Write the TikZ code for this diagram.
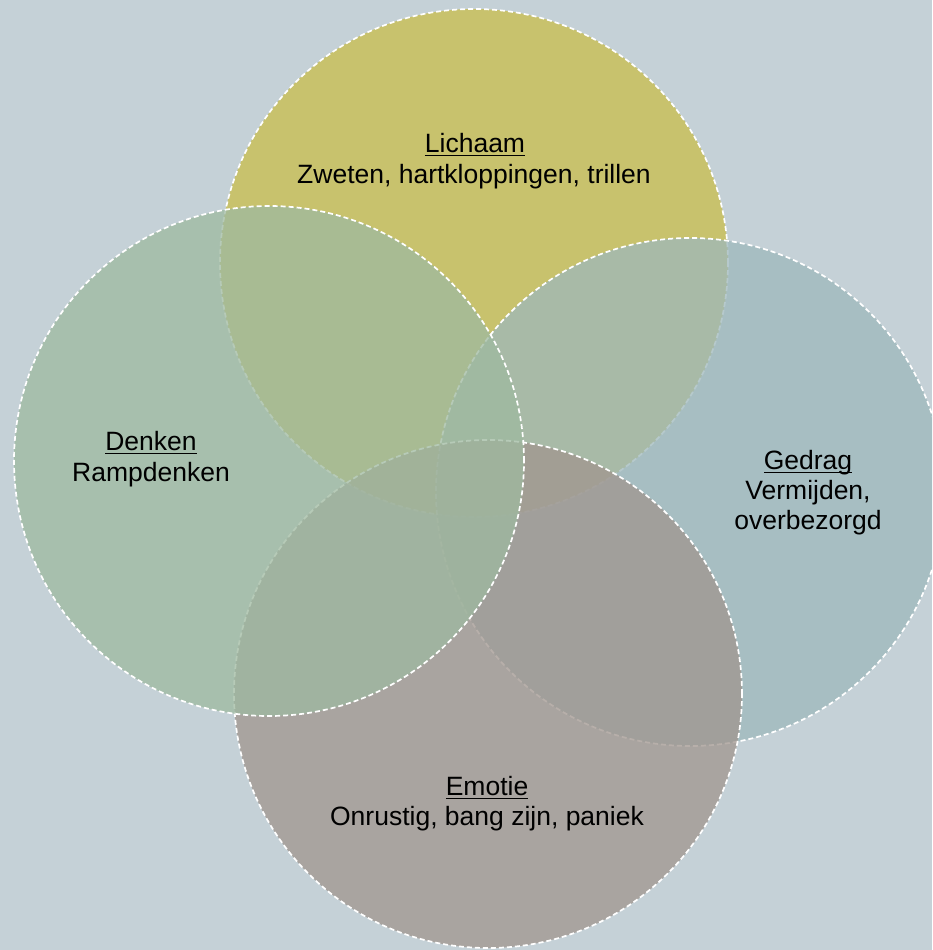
\documentclass[tikz,border=0pt]{standalone}
\usepackage{fontspec}
\setmainfont{Liberation Sans}
\definecolor{bgcol}{RGB}{197,209,215}
\definecolor{colLichaam}{RGB}{202,190,74}
\definecolor{colDenken}{RGB}{158,185,160}
\definecolor{colGedrag}{RGB}{158,184,187}
\definecolor{colEmotie}{RGB}{160,149,142}
\newcommand\myhead[1]{\setbox0\hbox{#1}\rlap{\rule[-4pt]{\wd0}{1.5pt}}\box0}
\tikzset{
  venn/.style={circle, draw=white, line width=1.7pt, dash pattern=on 5pt off 3pt,
    fill opacity=0.75, inner sep=0pt, minimum size=#1},
  lbl/.style={anchor=base, inner sep=0pt, text=black,
    font=\fontsize{26.5}{30}\selectfont}
}
\begin{document}
\begin{tikzpicture}[x=1pt,y=-1pt]
\fill[bgcol] (0,0) rectangle (932,950);
\useasboundingbox (0,0) rectangle (932,950);
\begin{scope}
\clip (0,0) rectangle (932,950);
\node[venn=508pt, fill=colLichaam] (lichaam) at (474,263) {};
\node[venn=508pt, fill=colGedrag] (gedrag) at (690,492) {};
\node[venn=508pt, fill=colEmotie] (emotie) at (488,694) {};
\node[venn=510pt, fill=colDenken] (denken) at (269,461) {};
\end{scope}
\node[lbl] (lichaamH) at (475,152) {\myhead{Lichaam}};
\node[lbl] (lichaamT) at (474,183) {Zweten, hartkloppingen, trillen};
\node[lbl] (denkenH) at (151,450) {\myhead{Denken}};
\node[lbl] (denkenT) at (151,481) {Rampdenken};
\node[lbl] (gedragH) at (808,469) {\myhead{Gedrag}};
\node[lbl] (gedragT1) at (808,499) {Vermijden,};
\node[lbl] (gedragT2) at (808,529) {overbezorgd};
\node[lbl] (emotieH) at (487,795) {\myhead{Emotie}};
\node[lbl] (emotieT) at (487,825) {Onrustig, bang zijn, paniek};
\end{tikzpicture}
\end{document}
